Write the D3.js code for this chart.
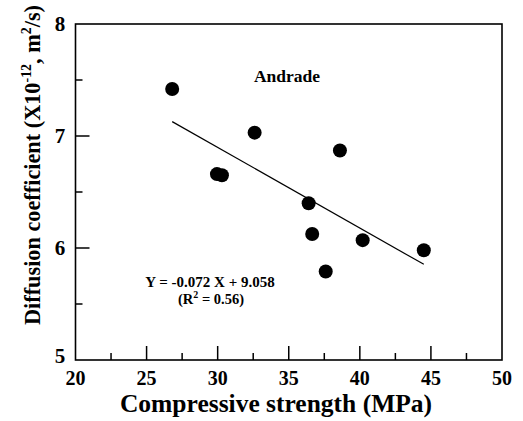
<!DOCTYPE html>
<html><head><meta charset="utf-8">
<script src="https://cdn.jsdelivr.net/npm/d3@7"></script>
<style>body{margin:0;background:#fff}svg{display:block}text{font-family:"Liberation Serif","Times New Roman",serif;font-weight:bold;fill:#000}</style>
</head><body>
<script>
const strength = [26.8, 32.6, 38.6, 29.95, 30.3, 36.4, 36.65, 40.2, 44.5, 37.6];
const diffusion = [7.42, 7.03, 6.87, 6.66, 6.65, 6.40, 6.125, 6.07, 5.98, 5.79];
const fitSlope = -0.072, fitIntercept = 9.058, fitRange = [26.8, 44.5];
const xTicks = [20, 25, 30, 35, 40, 45, 50];
const yTicks = [5, 6, 7, 8];

const W = 523, H = 421;
const m = {left: 75.5, right: 21, top: 24, bottom: 61};
const svg = d3.select("body").append("svg").attr("width", W).attr("height", H);
const x = d3.scaleLinear().domain([20, 50]).range([m.left, W - m.right]);
const y = d3.scaleLinear().domain([5, 8]).range([H - m.bottom, m.top]);

// frame
svg.append("rect").attr("x", x(20)).attr("y", y(8)).attr("width", x(50) - x(20)).attr("height", y(5) - y(8))
  .attr("fill", "none").attr("stroke", "#000").attr("stroke-width", 1.6);

// ticks (inward)
const xMinor = d3.range(22.5, 50, 5);
const yMinor = d3.range(5.5, 8, 1);
const g = svg.append("g").attr("stroke", "#000").attr("stroke-width", 1.5);
xTicks.slice(1, -1).forEach(v => g.append("line").attr("x1", x(v)).attr("x2", x(v)).attr("y1", y(5)).attr("y2", y(5) - 14));
xMinor.forEach(v => g.append("line").attr("x1", x(v)).attr("x2", x(v)).attr("y1", y(5)).attr("y2", y(5) - 7));
yTicks.slice(1, -1).forEach(v => g.append("line").attr("y1", y(v)).attr("y2", y(v)).attr("x1", x(20)).attr("x2", x(20) + 14));
yMinor.forEach(v => g.append("line").attr("y1", y(v)).attr("y2", y(v)).attr("x1", x(20)).attr("x2", x(20) + 7));

// tick labels
svg.selectAll(".xl").data(xTicks).join("text").attr("x", d => x(d)).attr("y", 385)
  .attr("text-anchor", "middle").attr("font-size", 20).text(d => d);
svg.selectAll(".yl").data(yTicks).join("text").attr("x", 60).attr("y", d => y(d) + 7 - (d === 5 ? 4 : 0))
  .attr("text-anchor", "middle").attr("font-size", 21).text(d => d);

// axis titles
svg.append("text").attr("x", 276).attr("y", 412).attr("text-anchor", "middle").attr("font-size", 25.5)
  .text("Compressive strength (MPa)");
const yt = svg.append("text").attr("transform", "translate(40,165) rotate(-90)").attr("text-anchor", "middle").attr("font-size", 24)
  .attr("textLength", 320).attr("lengthAdjust", "spacingAndGlyphs");
yt.append("tspan").text("Diffusion coefficient (X10");
yt.append("tspan").attr("font-size", 15).attr("dy", -9).text("-12");
yt.append("tspan").attr("dy", 9).text(", m");
yt.append("tspan").attr("font-size", 15).attr("dy", -9).text("2");
yt.append("tspan").attr("dy", 9).text("/s)");

// fit line
svg.append("line").attr("x1", x(fitRange[0])).attr("y1", y(fitSlope * fitRange[0] + fitIntercept))
  .attr("x2", x(fitRange[1])).attr("y2", y(fitSlope * fitRange[1] + fitIntercept))
  .attr("stroke", "#000").attr("stroke-width", 1.2);

// points
svg.selectAll("circle.p").data(strength).join("circle").attr("cx", d => x(d)).attr("cy", (d, i) => y(diffusion[i]))
  .attr("r", 7).attr("fill", "#000");

// annotations
svg.append("text").attr("x", 287).attr("y", 82).attr("text-anchor", "middle").attr("font-size", 17.5).text("Andrade");
svg.append("text").attr("x", 210).attr("y", 287).attr("text-anchor", "middle").attr("font-size", 15).text("Y = -0.072 X + 9.058");
const r2 = svg.append("text").attr("x", 211).attr("y", 304).attr("text-anchor", "middle").attr("font-size", 14.5);
r2.append("tspan").text("(R");
r2.append("tspan").attr("font-size", 10).attr("dy", -6).text("2");
r2.append("tspan").attr("dy", 6).text(" = 0.56)");
</script>
</body></html>
